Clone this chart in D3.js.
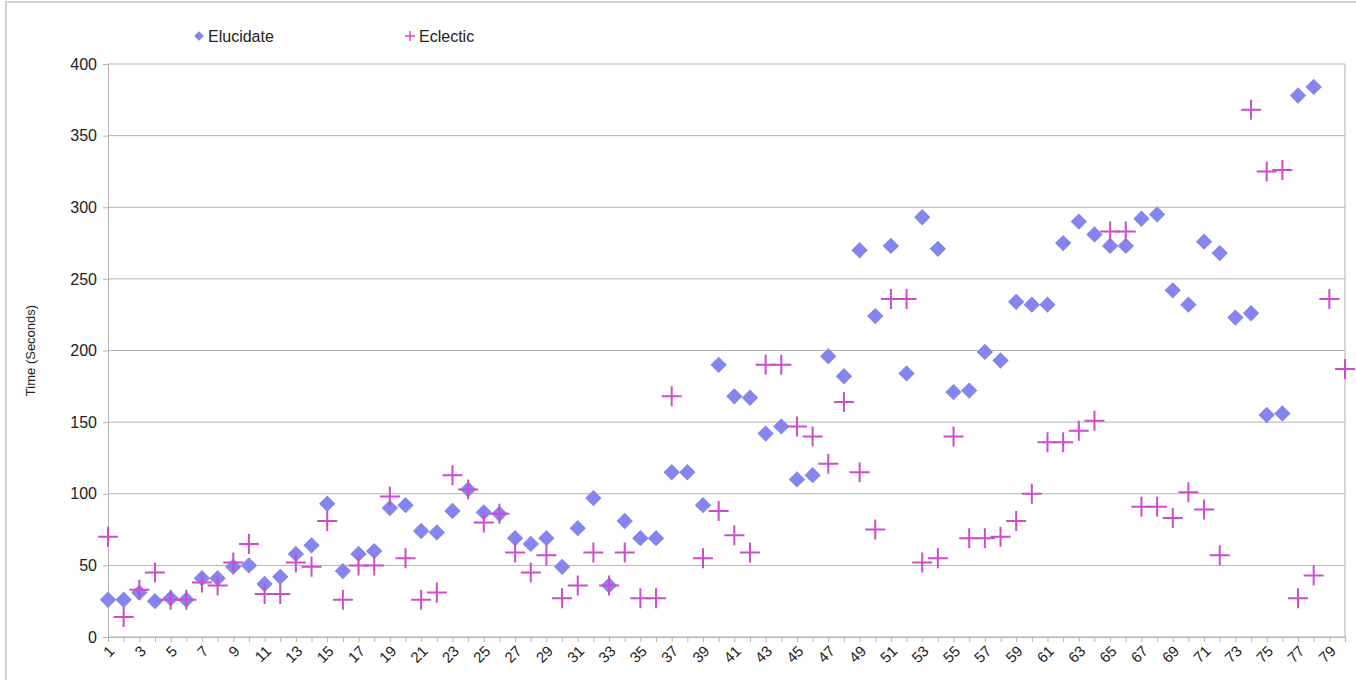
<!DOCTYPE html>
<html>
<head>
<meta charset="utf-8">
<script src="https://cdn.jsdelivr.net/npm/d3@7"></script>
<style>
  body { margin: 0; background: #fff; }
  text { font-family: "Liberation Sans", Arial, sans-serif; fill: #222; }
</style>
</head>
<body>
<div id="chart"></div>
<script>
var width = 1356, height = 680;

var categories = d3.range(1, 81).map(String);
var elucidate = [26, 26, 31, 25, 27, 26, 41, 41, 49, 50,
  37, 42, 58, 64, 93, 46, 58, 60, 90, 92,
  74, 73, 88, 103, 87, 86, 69, 65, 69, 49,
  76, 97, 36, 81, 69, 69, 115, 115, 92, 190,
  168, 167, 142, 147, 110, 113, 196, 182, 270, 224,
  273, 184, 293, 271, 171, 172, 199, 193, 234, 232,
  232, 275, 290, 281, 273, 273, 292, 295, 242, 232,
  276, 268, 223, 226, 155, 156, 378, 384, null, null];
var eclectic = [70, 14, 33, 45, 26, 26, 38, 36, 52, 65,
  30, 30, 52, 49, 81, 26, 50, 50, 98, 55,
  26, 31, 113, 103, 80, 86, 59, 45, 57, 27,
  36, 59, 36, 59, 27, 27, 168, null, 55, 88,
  71, 59, 190, 190, 147, 140, 121, 164, 115, 75,
  236, 236, 52, 55, 140, 69, 69, 70, 81, 100,
  136, 136, 144, 151, 283, 283, 91, 91, 83, 101,
  89, 57, null, 368, 325, 326, 27, 43, 236, 187];
var yTicks = [0, 50, 100, 150, 200, 250, 300, 350, 400];
var seriesNames = ["Elucidate", "Eclectic"];

var margin = {left: 108, right: 11, top: 64, bottom: 43};

var svg = d3.select("#chart").append("svg")
  .attr("width", width)
  .attr("height", height);

// frame
svg.append("rect")
  .attr("x", 6).attr("y", 2)
  .attr("width", width).attr("height", height)
  .attr("fill", "none")
  .attr("stroke", "#d0d0d0")
  .attr("stroke-width", 2);

var x = d3.scalePoint()
  .domain(categories)
  .range([margin.left, width - margin.right]);
var y = d3.scaleLinear()
  .domain([0, 400])
  .range([height - margin.bottom, margin.top]);

// grid
svg.append("g").selectAll("line")
  .data(yTicks).enter().append("line")
  .attr("x1", margin.left).attr("x2", width - margin.right)
  .attr("y1", function(d) { return y(d); })
  .attr("y2", function(d) { return y(d); })
  .attr("stroke", "#b3b3b3").attr("stroke-width", 1);

// right border of plot
svg.append("line")
  .attr("x1", width - margin.right).attr("x2", width - margin.right)
  .attr("y1", y(400)).attr("y2", y(0))
  .attr("stroke", "#b3b3b3");

var yAxis = svg.append("g")
  .attr("transform", "translate(" + margin.left + ",0)")
  .call(d3.axisLeft(y).tickValues(yTicks).tickSize(5).tickPadding(6));
yAxis.select(".domain").attr("stroke", "#b3b3b3");
yAxis.selectAll(".tick line").attr("stroke", "#b3b3b3");
yAxis.selectAll("text").style("font-size", "16px").attr("fill", "#222");

var xAxis = svg.append("g")
  .attr("transform", "translate(0," + y(0) + ")")
  .call(d3.axisBottom(x).tickSize(5).tickSizeOuter(0)
    .tickFormat(function(d, i) { return i % 2 === 0 ? d : ""; }));
xAxis.select(".domain").attr("stroke", "#b3b3b3");
xAxis.selectAll(".tick line").attr("stroke", "#b3b3b3");
xAxis.selectAll("text")
  .style("font-size", "15px")
  .attr("fill", "#222")
  .attr("text-anchor", "end")
  .attr("y", 0)
  .attr("dy", null)
  .attr("transform", "translate(7,15) rotate(-45)");

svg.append("text")
  .attr("transform", "translate(35," + ((y(0) + y(400)) / 2) + ") rotate(-90)")
  .attr("text-anchor", "middle")
  .style("font-size", "13px")
  .text("Time (Seconds)");

var diamond = d3.symbol().type(d3.symbolDiamond2).size(170);
var plus = "M-10,0H10M0,-10V10";

var eluColor = "#8585ef", eclColor = "#cc4ccc";

svg.append("g").selectAll("path")
  .data(elucidate.map(function(v, i) { return {c: categories[i], v: v}; })
    .filter(function(d) { return d.v !== null; }))
  .enter().append("path")
  .attr("d", diamond)
  .attr("transform", function(d) { return "translate(" + x(d.c) + "," + y(d.v) + ")"; })
  .attr("fill", eluColor);

svg.append("g").selectAll("path")
  .data(eclectic.map(function(v, i) { return {c: categories[i], v: v}; })
    .filter(function(d) { return d.v !== null; }))
  .enter().append("path")
  .attr("d", plus)
  .attr("transform", function(d) { return "translate(" + x(d.c) + "," + y(d.v) + ")"; })
  .attr("stroke", eclColor)
  .attr("stroke-width", 2)
  .attr("fill", "none");

// legend
var legend = svg.append("g");
legend.append("path")
  .attr("d", d3.symbol().type(d3.symbolDiamond2).size(60))
  .attr("transform", "translate(199,36)")
  .attr("fill", eluColor);
legend.append("text")
  .attr("x", 208).attr("y", 42)
  .style("font-size", "16px")
  .text(seriesNames[0]);
legend.append("path")
  .attr("d", "M-5,0H5M0,-5V5")
  .attr("transform", "translate(410,36)")
  .attr("stroke", eclColor).attr("stroke-width", 1.5);
legend.append("text")
  .attr("x", 419).attr("y", 42)
  .style("font-size", "16px")
  .text(seriesNames[1]);
</script>
</body>
</html>
